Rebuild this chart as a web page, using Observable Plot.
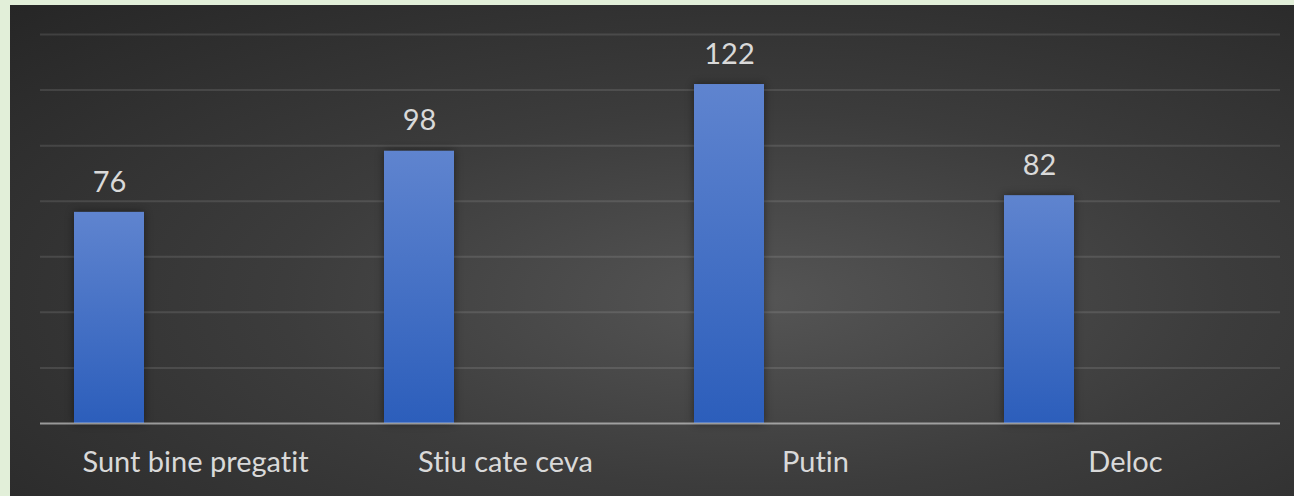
<!DOCTYPE html>
<html>
<head>
<meta charset="utf-8">
<script src="https://cdn.jsdelivr.net/npm/d3@7"></script>
<script src="https://cdn.jsdelivr.net/npm/@observablehq/plot@0.6"></script>
<style>
  html, body { margin: 0; padding: 0; background: #e2efd9; }
  #chart { position: absolute; left: 10px; top: 5px; width: 1284px; height: 491px; }
  #chart svg { font-variant-ligatures: none; font-feature-settings: "liga" 0, "clig" 0; }
  #chart svg text { font-variant-ligatures: none; font-feature-settings: "liga" 0, "clig" 0; }
  #chart svg g[aria-label="bar"] rect { filter: drop-shadow(0px 0px 4px rgba(0,0,0,0.45)); }
</style>
</head>
<body>
<div id="chart"></div>
<script>
const categories = ["Sunt bine pregatit", "Stiu cate ceva", "Putin", "Deloc"];
const values = [76, 98, 122, 82];
const yTicks = [0, 20, 40, 60, 80, 100, 120, 140];

const data = categories.map((c, i) => ({cat: c, value: values[i]}));

function gradientDefs() {
  const ns = "http://www.w3.org/2000/svg";
  const defs = document.createElementNS(ns, "defs");
  const lg = document.createElementNS(ns, "linearGradient");
  lg.setAttribute("id", "barGrad");
  lg.setAttribute("x1", "0"); lg.setAttribute("y1", "0");
  lg.setAttribute("x2", "0"); lg.setAttribute("y2", "1");
  [["0%", "#5f84cf"], ["100%", "#2c5ebb"]].forEach(([o, c]) => {
    const s = document.createElementNS(ns, "stop");
    s.setAttribute("offset", o);
    s.setAttribute("stop-color", c);
    lg.appendChild(s);
  });
  defs.appendChild(lg);
  return defs;
}

const chart = Plot.plot({
  width: 1284,
  height: 491,
  marginLeft: 30,
  marginRight: 14,
  marginTop: 29,
  marginBottom: 73,
  style: {
    background: "radial-gradient(ellipse farthest-corner at 58% 60%, #555555 0%, #3c3c3c 45%, #262626 100%)",
    fontFamily: "Lato, 'Open Sans', sans-serif",
    color: "#d9d9d9",
    overflow: "visible"
  },
  x: {domain: categories, padding: 0, axis: null},
  y: {domain: [0, 140], axis: null},
  marks: [
    () => gradientDefs(),
    Plot.ruleY(yTicks.filter(d => d > 0), {stroke: "#ffffff", strokeOpacity: 0.11, strokeWidth: 2}),
    Plot.barY(data, {x: "cat", y: "value", fill: "url(#barGrad)", insetLeft: 34, insetRight: 206}),
    Plot.ruleY([0], {stroke: "#e0e0e0", strokeOpacity: 0.6, strokeWidth: 2}),
    Plot.text(data, {x: "cat", y: "value", text: d => String(d.value), dx: -86, dy: -30, fontSize: 29, fill: "#d9d9d9"}),
    Plot.axisX({domain: categories, tickSize: 0, tickPadding: 28, fontSize: 29, label: null})
  ]
});

document.getElementById("chart").appendChild(chart);
</script>
</body>
</html>
